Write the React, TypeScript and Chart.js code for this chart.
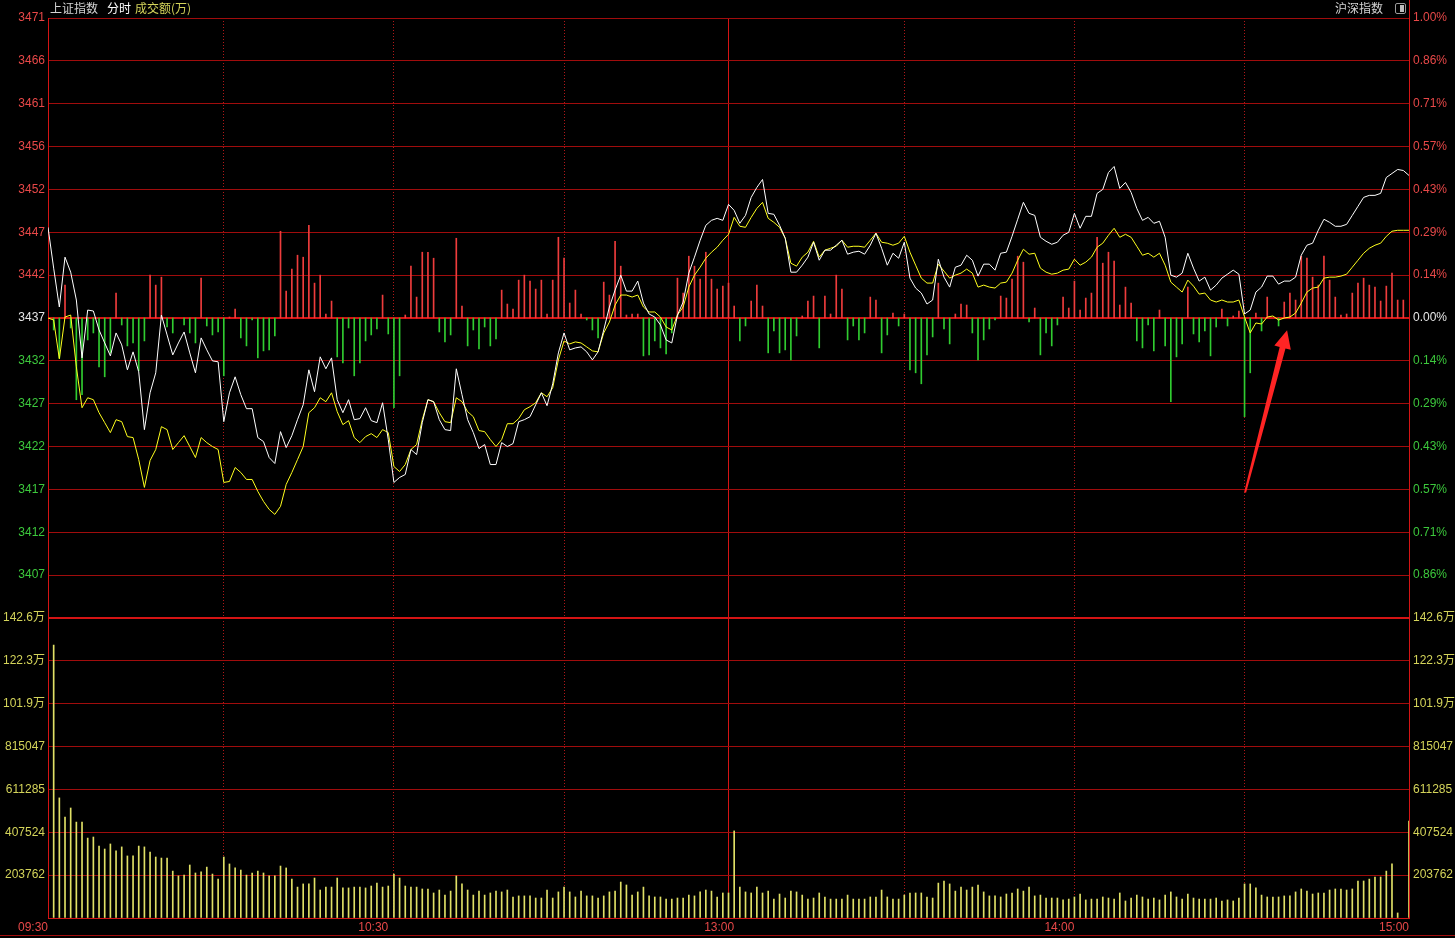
import React, { useEffect, useRef } from 'react';
import { Chart, registerables } from 'chart.js';

Chart.register(...registerables);

// ---------- values ----------
const BASE_PRICE = 3437.3; // previous close (0.00%)

const PRICE_TICK_LABELS = ['3471', '3466', '3461', '3456', '3452', '3447', '3442', '3437', '3432', '3427', '3422', '3417', '3412', '3407'];
const PCT_TICK_LABELS = ['1.00%', '0.86%', '0.71%', '0.57%', '0.43%', '0.29%', '0.14%', '0.00%', '0.14%', '0.29%', '0.43%', '0.57%', '0.71%', '0.86%'];
const VOL_STEP = 20.37618; // 万 per volume grid step
const VOL_TICK_LABELS = ['142.6万', '122.3万', '101.9万', '815047', '611285', '407524', '203762'];
// minute slots: grid lines and time labels
const TIME_TICKS = [0, 31, 60, 61, 91, 120, 121, 151, 181, 211, 240];
const TIME_TICK_LABELS = ['09:30', '', '10:30', '', '', '', '13:00', '', '14:00', '', '15:00'];
const SOLID_TIME_GRID = [0, 120, 240];
const LABEL_ONLY_TICKS = [60, 121];

// 上证指数 (white)
const WHITE_LINE = [
  3447.69, 3443.01, 3438.56, 3444.27, 3442.55, 3439.36, 3432.73, 3438.21, 3438.10, 3435.93,
  3434.44, 3432.96, 3435.59, 3434.22, 3431.36, 3433.42, 3431.13, 3424.51, 3428.73, 3431.02,
  3437.64, 3435.36, 3433.07, 3434.44, 3435.70, 3433.30, 3431.02, 3435.02, 3433.65, 3432.39,
  3432.28, 3425.42, 3428.73, 3430.56, 3428.51, 3426.91, 3426.91, 3423.60, 3423.14, 3421.31,
  3420.63, 3424.28, 3422.45, 3423.82, 3425.65, 3427.36, 3431.36, 3428.85, 3432.85, 3431.48,
  3432.73, 3427.94, 3426.45, 3427.94, 3425.65, 3425.77, 3427.02, 3425.54, 3425.31, 3427.59,
  3423.37, 3418.46, 3419.03, 3419.37, 3422.23, 3421.65, 3425.31, 3427.94, 3427.71, 3425.65,
  3424.51, 3424.40, 3431.48, 3428.51, 3425.65, 3424.17, 3422.34, 3422.80, 3420.51, 3420.51,
  3423.02, 3422.57, 3422.91, 3425.42, 3425.65, 3425.99, 3427.36, 3428.73, 3427.25, 3429.76,
  3433.30, 3435.59, 3433.65, 3433.87, 3433.99, 3433.42, 3432.50, 3433.42, 3435.93, 3438.56,
  3440.50, 3442.21, 3440.38, 3440.38, 3441.53, 3439.01, 3437.76, 3437.41, 3436.50, 3434.79,
  3434.44, 3437.64, 3439.13, 3442.44, 3444.27, 3446.21, 3447.92, 3448.49, 3448.72, 3448.49,
  3450.32, 3449.63, 3448.15, 3449.06, 3451.12, 3452.26, 3453.17, 3449.29, 3449.18, 3447.92,
  3446.44, 3442.55, 3442.55, 3443.35, 3444.27, 3445.98, 3443.92, 3445.07, 3445.07, 3445.64,
  3446.21, 3444.61, 3444.84, 3444.95, 3444.61, 3445.64, 3447.01, 3445.29, 3443.35, 3444.72,
  3444.15, 3445.98, 3441.87, 3440.73, 3440.16, 3438.90, 3439.36, 3444.04, 3441.98, 3440.84,
  3443.12, 3443.35, 3444.49, 3443.92, 3442.10, 3443.47, 3443.47, 3442.78, 3444.72, 3444.84,
  3446.66, 3448.61, 3450.55, 3449.29, 3449.06, 3446.55, 3446.09, 3445.75, 3445.98, 3446.78,
  3447.12, 3449.29, 3447.58, 3448.95, 3448.95, 3451.58, 3452.03, 3453.97, 3454.66, 3452.15,
  3452.83, 3451.69, 3449.86, 3448.49, 3448.83, 3448.15, 3448.38, 3446.55, 3442.21, 3441.98,
  3442.44, 3444.72, 3443.01, 3441.53, 3441.98, 3440.50, 3441.07, 3441.87, 3442.32, 3442.78,
  3442.32, 3437.76, 3438.21, 3440.27, 3440.84, 3442.10, 3442.10, 3441.18, 3441.53, 3441.53,
  3441.98, 3444.49, 3445.64, 3445.87, 3447.35, 3448.61, 3448.26, 3447.81, 3447.81, 3448.03,
  3449.06, 3450.09, 3451.12, 3451.35, 3451.35, 3451.58, 3453.40, 3453.86, 3454.32, 3454.20,
  3453.63,
];

// yellow line
const YELLOW_LINE = [
  3437.30, 3437.07, 3432.62, 3437.41, 3437.64, 3431.70, 3427.02, 3428.16, 3427.94, 3426.45,
  3425.31, 3424.17, 3425.65, 3425.42, 3423.71, 3423.60, 3421.08, 3417.89, 3420.97, 3422.23,
  3424.85, 3424.51, 3422.23, 3423.02, 3423.82, 3422.57, 3421.31, 3423.60, 3423.02, 3422.57,
  3422.23, 3418.46, 3418.57, 3420.17, 3419.60, 3418.80, 3418.80, 3417.43, 3416.29, 3415.37,
  3414.80, 3415.72, 3418.23, 3419.60, 3421.08, 3422.57, 3426.45, 3427.02, 3428.16, 3427.71,
  3428.73, 3426.57, 3425.08, 3425.54, 3423.60, 3423.02, 3423.71, 3424.05, 3423.60, 3424.51,
  3424.17, 3420.28, 3419.71, 3420.51, 3422.23, 3422.80, 3425.65, 3427.94, 3427.71, 3426.45,
  3425.42, 3425.31, 3428.16, 3427.71, 3426.57, 3425.99, 3424.40, 3424.28, 3423.37, 3422.57,
  3423.37, 3425.19, 3425.19, 3425.77, 3426.79, 3427.14, 3427.59, 3428.73, 3428.28, 3429.31,
  3432.50, 3434.67, 3434.33, 3434.56, 3434.44, 3433.99, 3433.53, 3433.42, 3435.59, 3436.84,
  3438.78, 3439.93, 3439.93, 3439.70, 3439.93, 3438.56, 3437.99, 3437.99, 3437.41, 3436.27,
  3435.93, 3437.64, 3438.56, 3440.84, 3442.21, 3443.12, 3444.15, 3444.84, 3445.41, 3446.21,
  3446.89, 3448.83, 3447.81, 3447.69, 3448.83, 3449.86, 3450.55, 3448.72, 3448.26, 3447.69,
  3446.44, 3443.58, 3443.24, 3444.27, 3444.84, 3446.09, 3444.27, 3445.07, 3445.29, 3445.52,
  3446.21, 3445.41, 3445.52, 3445.52, 3445.41, 3446.21, 3447.01, 3445.98, 3445.87, 3445.64,
  3445.87, 3446.66, 3444.84, 3443.35, 3441.87, 3441.30, 3441.30, 3443.47, 3442.67, 3441.87,
  3442.21, 3442.44, 3442.90, 3442.44, 3440.84, 3441.07, 3440.84, 3440.73, 3441.30, 3441.41,
  3442.44, 3443.92, 3445.18, 3444.61, 3444.72, 3443.01, 3442.55, 3442.32, 3442.44, 3442.78,
  3442.90, 3444.04, 3443.35, 3443.70, 3444.27, 3445.41, 3445.87, 3446.78, 3447.58, 3446.55,
  3446.89, 3446.55, 3445.52, 3444.49, 3444.72, 3444.27, 3444.72, 3443.35, 3441.41, 3440.84,
  3440.27, 3441.64, 3440.95, 3440.04, 3440.16, 3439.36, 3439.13, 3439.36, 3439.13, 3439.13,
  3439.36, 3437.41, 3435.59, 3436.73, 3436.61, 3437.41, 3437.53, 3437.07, 3437.30, 3437.41,
  3437.87, 3439.01, 3440.27, 3440.73, 3440.84, 3441.87, 3441.98, 3441.98, 3442.10, 3442.32,
  3443.12, 3443.92, 3444.72, 3445.29, 3445.64, 3445.87, 3446.66, 3447.24, 3447.35, 3447.35,
  3447.35,
];

// red / green strength bars (index units)
const POWER = [
  0, -12, -40, 33, -10, -82, -77, -22, -15, -49,
  -59, -35, 25, -7, -28, -25, -53, -23, 43, 33,
  41, -9, -15, 0, -7, -15, -25, 40, -8, -17,
  -14, -58, 1, 9, -20, -28, -2, -40, -33, -32,
  -18, 87, 27, 49, 63, 61, 93, 35, 43, 4,
  17, -39, -45, -10, -58, -45, -23, -17, -11, 23,
  -16, -90, -58, 3, 52, 21, 66, 66, 60, -14,
  -24, -17, 80, 12, -28, -12, -31, -9, -28, -21,
  28, 14, 9, 38, 43, 37, 29, 38, 4, 38,
  81, 60, 15, 28, 4, -2, -12, -20, 36, 23,
  77, 52, 3, 4, 4, -38, -37, -23, -30, -36,
  -15, 40, 25, 62, 52, 39, 66, 39, 29, 32,
  35, 12, -23, -8, 17, 33, 12, -35, -13, -35,
  -32, -42, -18, 2, 17, 22, -30, 22, 4, 43,
  29, -22, -8, -22, -15, 21, 18, -35, -17, 5,
  -8, 4, -52, -55, -66, -37, -19, 35, -11, -26,
  4, 14, 13, -15, -42, -22, -11, -2, 22, 20,
  39, 62, 56, -4, 10, -37, -15, -28, -7, 21,
  10, 37, 8, 20, 25, 81, 55, 66, 57, 13,
  31, 15, -23, -30, -7, -33, 8, -28, -84, -39,
  -26, 31, -16, -24, -13, -38, -9, 9, -8, 2,
  7, -99, -55, 5, -13, 21, 0, -8, 16, 25,
  18, 62, 60, 41, 33, 62, 38, 21, 3, 4,
  25, 35, 40, 33, 31, 17, 32, 45, 18, 18,
  0,
];
const POWER_TO_POINTS = 0.1142;

// 成交额 (万)
const VOLUME = [
  null, 129.8, 57.1, 48.0, 52.3, 45.6, 45.6, 38.0, 38.5, 34.2,
  32.8, 35.2, 31.9, 33.8, 29.5, 29.5, 34.2, 33.8, 31.4, 29.0,
  28.5, 28.5, 22.3, 20.0, 20.4, 25.2, 21.4, 21.9, 24.2, 20.9,
  18.5, 29.0, 25.7, 23.8, 22.8, 20.4, 21.4, 22.3, 21.4, 20.0,
  20.0, 24.7, 23.8, 18.5, 14.7, 16.2, 16.2, 19.0, 13.3, 14.7,
  14.7, 19.0, 14.3, 14.3, 14.7, 14.7, 14.3, 15.2, 16.6, 14.7,
  15.2, 20.9, 19.0, 15.2, 14.7, 14.7, 13.8, 13.8, 11.9, 13.3,
  10.9, 12.8, 20.0, 16.2, 13.3, 10.9, 12.8, 10.9, 11.9, 12.8,
  12.4, 13.3, 10.0, 10.5, 10.5, 10.5, 9.5, 9.5, 13.3, 9.5,
  12.4, 14.7, 12.4, 10.0, 12.8, 10.5, 10.5, 9.5, 10.5, 12.4,
  12.8, 17.1, 15.7, 10.9, 12.4, 14.7, 10.5, 10.0, 10.0, 9.0,
  9.0, 9.5, 9.5, 10.9, 10.5, 12.4, 13.3, 12.8, 10.0, 11.9,
  11.9, 41.4, 14.7, 12.4, 11.9, 14.7, 11.9, 12.8, 9.0, 11.4,
  9.5, 12.8, 12.4, 10.9, 9.0, 9.5, 11.9, 10.0, 9.0, 9.0,
  9.0, 10.9, 9.0, 9.0, 9.0, 10.0, 10.0, 13.3, 10.0, 9.0,
  9.0, 10.9, 11.9, 11.9, 11.9, 10.0, 9.5, 16.6, 17.6, 16.2,
  12.8, 14.7, 13.3, 14.7, 15.7, 12.4, 10.5, 10.5, 10.0, 11.4,
  11.9, 13.8, 12.8, 14.7, 10.5, 10.9, 9.5, 9.5, 9.5, 8.6,
  9.0, 10.0, 11.4, 8.6, 9.0, 9.0, 10.0, 9.5, 9.0, 11.9,
  8.1, 9.5, 10.9, 10.0, 9.0, 9.5, 8.6, 10.9, 12.4, 10.0,
  9.0, 11.4, 9.5, 9.0, 9.0, 9.0, 9.5, 8.1, 8.6, 8.1,
  9.5, 16.2, 16.2, 14.3, 10.9, 10.0, 10.0, 10.0, 10.5, 10.5,
  12.4, 13.8, 12.8, 11.4, 11.9, 11.9, 13.3, 13.8, 13.8, 13.3,
  13.8, 17.6, 17.6, 18.5, 19.5, 19.5, 22.3, 25.7, 2.4, null,
  46.1,
];

// annotation arrow (minute slot, price)
const ARROW_TAIL = [211.1, 3417.3];
const ARROW_TIP = [218.5, 3435.9];

// ---------- styling ----------
const FONT = "'Liberation Sans', 'Noto Sans CJK SC', Arial, sans-serif";
const CJK = "'Noto Sans CJK SC', sans-serif";
const GRID = '#a00c0c';
const GRID_STRONG = '#d41414';
const DOT = '#b01818';
const TXT_RED = '#e84848';
const TXT_GREEN = '#3cc83c';
const TXT_WHITE = '#e6e6e6';
const TXT_YELLOW = '#d4d45a';
const BAR_RED = '#ee3c3c';
const BAR_GREEN = '#30cc30';
const BAR_VOL = '#e0e066';

const arrowPlugin = {
  id: 'redArrow',
  afterDatasetsDraw(chart: any) {
    const { ctx, scales } = chart;
    const xs = scales.x;
    const ys = scales.yP;
    const tx = xs.getPixelForValue(ARROW_TAIL[0]);
    const ty = ys.getPixelForValue(ARROW_TAIL[1]);
    const px = xs.getPixelForValue(ARROW_TIP[0]);
    const py = ys.getPixelForValue(ARROW_TIP[1]);
    const dx = px - tx;
    const dy = py - ty;
    const len = Math.hypot(dx, dy);
    const ux = dx / len, uy = dy / len;
    const nx = -uy, ny = ux;
    const headLen = 18, headHalf = 8.5, neckHalf = 3, tailHalf = 1;
    const kx = px - ux * headLen, ky = py - uy * headLen;
    ctx.save();
    ctx.fillStyle = '#ff2424';
    ctx.beginPath();
    ctx.moveTo(tx - nx * tailHalf, ty - ny * tailHalf);
    ctx.lineTo(kx - nx * neckHalf, ky - ny * neckHalf);
    ctx.lineTo(kx - nx * headHalf, ky - ny * headHalf);
    ctx.lineTo(px, py);
    ctx.lineTo(kx + nx * headHalf, ky + ny * headHalf);
    ctx.lineTo(kx + nx * neckHalf, ky + ny * neckHalf);
    ctx.lineTo(tx + nx * tailHalf, ty + ny * tailHalf);
    ctx.closePath();
    ctx.fill();
    ctx.restore();
  },
};

function priceTicks() {
  const out: { value: number }[] = [];
  for (let k = -7; k <= 7; k++) out.push({ value: BASE_PRICE * (1 + k / 700) });
  return out;
}
function volTicks() {
  const out: { value: number }[] = [];
  for (let k = 0; k <= 7; k++) out.push({ value: k * VOL_STEP });
  return out;
}
const priceColor = (i: number) => (i > 7 ? TXT_RED : i === 7 ? TXT_WHITE : TXT_GREEN);

export default function App() {
  const ref = useRef<HTMLCanvasElement>(null);

  useEffect(() => {
    const canvas = ref.current;
    if (!canvas) return;

    const whiteData = WHITE_LINE.map((v, i) => ({ x: i, y: v }));
    const yellowData = YELLOW_LINE.map((v, i) => ({ x: i, y: v }));
    const redData: any[] = [];
    const greenData: any[] = [];
    POWER.forEach((v, i) => {
      if (v > 0) redData.push({ x: i, y: [BASE_PRICE, BASE_PRICE + v * POWER_TO_POINTS] });
      else if (v < 0) greenData.push({ x: i, y: [BASE_PRICE + v * POWER_TO_POINTS, BASE_PRICE] });
    });
    const volData: any[] = [];
    VOLUME.forEach((v, i) => {
      if (v !== null) volData.push({ x: i, y: v });
    });

    const tickFont = { family: FONT, size: 12 };

    const chart = new Chart(canvas, {
      type: 'bar',
      data: {
        datasets: [
          { type: 'line', data: whiteData, borderColor: '#ffffff', borderWidth: 1, pointRadius: 0, tension: 0, yAxisID: 'yP', order: 0 } as any,
          { type: 'line', data: yellowData, borderColor: '#ffff1e', borderWidth: 1, pointRadius: 0, tension: 0, yAxisID: 'yP', order: 1 } as any,
          { type: 'bar', data: redData, backgroundColor: BAR_RED, barThickness: 1, grouped: false, borderWidth: 0, yAxisID: 'yP', order: 2 } as any,
          { type: 'bar', data: greenData, backgroundColor: BAR_GREEN, barThickness: 1, grouped: false, borderWidth: 0, yAxisID: 'yP', order: 2 } as any,
          { type: 'bar', data: volData, backgroundColor: BAR_VOL, barThickness: 1, grouped: false, borderWidth: 0, yAxisID: 'yV', order: 3 } as any,
        ],
      },
      options: {
        responsive: false,
        animation: false,
        devicePixelRatio: 1,
        events: [],
        layout: { padding: { top: 18, left: 0, right: 0, bottom: 0 }, autoPadding: false } as any,
        plugins: { legend: { display: false }, tooltip: { enabled: false } },
        scales: {
          x: {
            type: 'linear',
            position: 'bottom',
            offset: false,
            min: 0,
            max: 240,
            afterBuildTicks: (s: any) => { s.ticks = TIME_TICKS.map((v) => ({ value: v })); },
            afterFit: (s: any) => { s.height = 20; },
            ticks: {
              autoSkip: false,
              maxRotation: 0,
              minRotation: 0,
              align: 'end',
              padding: 2,
              color: TXT_RED,
              font: tickFont,
              callback: (_v: any, i: number) => TIME_TICK_LABELS[i],
            },
            grid: {
              offset: false,
              drawTicks: false,
              color: (c: any) => (c.tick && SOLID_TIME_GRID.includes(c.tick.value) ? GRID_STRONG : DOT),
              lineWidth: (c: any) => (c.tick && LABEL_ONLY_TICKS.includes(c.tick.value) ? 0 : 1),
            },
            border: {
              display: true,
              color: GRID_STRONG,
              dash: (c: any) => (c.tick && !SOLID_TIME_GRID.includes(c.tick.value) ? [1, 2] : []),
            },
          } as any,
          yP: {
            type: 'linear',
            position: 'left',
            stack: 'left',
            stackWeight: 2,
            weight: 2,
            min: BASE_PRICE * 0.99,
            max: BASE_PRICE * 1.01,
            afterBuildTicks: (s: any) => { s.ticks = priceTicks(); },
            afterFit: (s: any) => { s.width = 48; },
            ticks: {
              padding: 3,
              font: tickFont,
              color: (c: any) => priceColor(c.index),
              callback: (_v: any, i: number) => (i === 0 ? '' : PRICE_TICK_LABELS[14 - i]),
            },
            grid: {
              drawTicks: false,
              color: (c: any) => (c.index === 7 || c.index === 0 ? GRID_STRONG : GRID),
              lineWidth: (c: any) => (c.index === 7 || c.index === 0 ? 2 : 1),
            },
            border: { display: true, color: GRID_STRONG },
          } as any,
          yV: {
            type: 'linear',
            position: 'left',
            stack: 'left',
            stackWeight: 1,
            weight: 1,
            min: 0,
            max: 7 * VOL_STEP,
            afterBuildTicks: (s: any) => { s.ticks = volTicks(); },
            afterFit: (s: any) => { s.width = 48; },
            ticks: {
              padding: 3,
              font: tickFont,
              color: TXT_YELLOW,
              callback: (_v: any, i: number) => (i === 0 ? '' : VOL_TICK_LABELS[7 - i]),
            },
            grid: {
              drawTicks: false,
              color: (c: any) => (c.index === 7 ? GRID_STRONG : GRID),
              lineWidth: (c: any) => (c.index === 7 ? 2 : 1),
            },
            border: { display: true, color: GRID_STRONG },
          } as any,
          yPct: {
            type: 'linear',
            position: 'right',
            stack: 'right',
            stackWeight: 2,
            weight: 1,
            min: BASE_PRICE * 0.99,
            max: BASE_PRICE * 1.01,
            afterBuildTicks: (s: any) => { s.ticks = priceTicks(); },
            afterFit: (s: any) => { s.width = 46; },
            ticks: {
              padding: 4,
              font: tickFont,
              color: (c: any) => priceColor(c.index),
              callback: (_v: any, i: number) => (i === 0 ? '' : PCT_TICK_LABELS[14 - i]),
            },
            grid: { drawTicks: false, drawOnChartArea: false },
            border: { display: true, color: GRID_STRONG },
          } as any,
          yV2: {
            type: 'linear',
            position: 'right',
            stack: 'right',
            stackWeight: 1,
            weight: 2,
            min: 0,
            max: 7 * VOL_STEP,
            afterBuildTicks: (s: any) => { s.ticks = volTicks(); },
            afterFit: (s: any) => { s.width = 46; },
            ticks: {
              padding: 4,
              font: tickFont,
              color: TXT_YELLOW,
              callback: (_v: any, i: number) => (i === 0 ? '' : VOL_TICK_LABELS[7 - i]),
            },
            grid: { drawTicks: false, drawOnChartArea: false },
            border: { display: true, color: GRID_STRONG },
          } as any,
        },
      },
      plugins: [arrowPlugin],
    });

    return () => chart.destroy();
  }, []);

  const head: React.CSSProperties = {
    position: 'absolute',
    top: 0,
    fontFamily: CJK,
    fontSize: 12,
    lineHeight: '16px',
    whiteSpace: 'nowrap',
  };

  return (
    <div style={{ position: 'fixed', left: 0, top: 0, width: 1455, height: 938, background: '#000', overflow: 'hidden' }}>
      <canvas ref={ref} width={1455} height={938} style={{ display: 'block', width: 1455, height: 938 }} />
      <span style={{ ...head, left: 50, color: '#d4d4d4' }}>上证指数</span>
      <span style={{ ...head, left: 107, color: '#ffffff' }}>分时</span>
      <span style={{ ...head, left: 135, color: TXT_YELLOW }}>成交额(万)</span>
      <span style={{ ...head, left: 1335, color: '#d4d4d4' }}>沪深指数</span>
      <div style={{ position: 'absolute', left: 1395, top: 3, width: 9, height: 9, border: '1px solid #9a9a9a', borderRadius: 2, boxSizing: 'content-box' }}>
        <div style={{ position: 'absolute', right: 1, top: 1, width: 4, height: 7, background: '#bdbdbd' }} />
      </div>
      <div style={{ position: 'absolute', left: 1409, top: 0, width: 1, height: 18, background: GRID_STRONG }} />
      <div style={{ position: 'absolute', left: 0, top: 935, width: 1455, height: 1, background: GRID }} />
    </div>
  );
}
